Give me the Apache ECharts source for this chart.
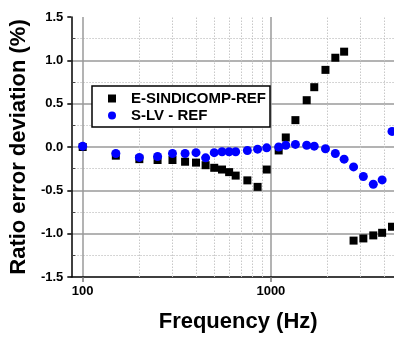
<!DOCTYPE html>
<html>
<head>
<meta charset="utf-8">
<script src="https://cdn.jsdelivr.net/npm/echarts@6/dist/echarts.min.js"></script>
<style>
html,body{margin:0;padding:0;background:#fff;}
#c{width:394px;height:338px;}
</style>
</head>
<body>
<div id="c"></div>
<script>
// Data
const freqHz = [100,150,200,250,300,350,400,450,500,550,600,650,750,850,950,1100,1200,1350,1550,1700,1950,2200,2450,2750,3100,3500,3900,4400];
const eSindicompRef = [0.00,-0.10,-0.14,-0.15,-0.15,-0.17,-0.18,-0.21,-0.24,-0.26,-0.29,-0.33,-0.385,-0.46,-0.26,-0.04,0.11,0.31,0.54,0.69,0.89,1.03,1.10,-1.08,-1.055,-1.02,-0.99,-0.92];
const sLvRef = [0.01,-0.075,-0.12,-0.11,-0.075,-0.075,-0.065,-0.125,-0.065,-0.055,-0.055,-0.055,-0.04,-0.025,-0.01,0.00,0.02,0.03,0.02,0.01,-0.02,-0.075,-0.14,-0.23,-0.34,-0.43,-0.38,0.18];
const seriesNames = ['E-SINDICOMP-REF','S-LV - REF'];
const xMinorGrid = [200,300,400,500,600,700,800,900,2000,3000,4000];

const FONT = 'Liberation Sans, Arial, Helvetica, sans-serif';
const chart = echarts.init(document.getElementById('c'), null, {renderer:'canvas'});

const pairs = (xs, ys) => xs.map((x,i)=>[x, ys[i]]);

chart.setOption({
  animation:false,
  backgroundColor:'#fff',
  grid:{left:71, top:17, right:0, bottom:55, containLabel:false},
  legend:{
    orient:'vertical', left:92, top:86,
    padding:[5,4,4,16], itemGap:2,
    itemWidth:8, itemHeight:8,
    borderColor:'#000', borderWidth:1.5, backgroundColor:'#fff',
    data:seriesNames,
    formatter: n => '{g|}' + n,
    textStyle:{fontFamily:FONT, fontWeight:'bold', fontSize:15, color:'#000',
      rich:{g:{width:10}}}
  },
  xAxis:{
    type:'log', logBase:10, min:87, max:4510,
    name:'Frequency (Hz)', nameLocation:'middle', nameGap:34,
    nameTextStyle:{fontFamily:FONT, fontWeight:'bold', fontSize:22, color:'#000', padding:[0,0,0,11]},
    axisLine:{show:true, onZero:false, lineStyle:{color:'#000', width:1.5}},
    axisTick:{show:true, length:5, lineStyle:{color:'#777', width:1.5}},
    axisLabel:{fontFamily:FONT, fontWeight:'bold', fontSize:13, color:'#000', margin:8,
      showMinLabel:false, showMaxLabel:false,
      formatter: v => { const l = Math.log10(v); return Math.abs(l - Math.round(l)) < 1e-6 ? String(Math.round(v)) : ''; }},
    splitLine:{show:true, showMinLine:false, showMaxLine:false, lineStyle:{color:'#9a9a9a', width:1.5}}
  },
  yAxis:{
    type:'value', min:-1.5, max:1.5, interval:0.5,
    name:'Ratio error deviation (%)', nameLocation:'middle', nameGap:34,
    nameTextStyle:{fontFamily:FONT, fontWeight:'bold', fontSize:22, color:'#000'},
    axisLine:{show:true, onZero:false, lineStyle:{color:'#000', width:1.5}},
    axisTick:{show:true, length:4, lineStyle:{color:'#000', width:1.5}},
    minorTick:{show:true, splitNumber:2, length:-4, lineStyle:{color:'#444', width:1}},
    minorSplitLine:{show:true, lineStyle:{color:'#c8c8c8', width:1, type:[1.5,1.5]}},
    axisLabel:{fontFamily:FONT, fontWeight:'bold', fontSize:13, color:'#000', margin:8,
      formatter: v => v.toFixed(1)},
    splitLine:{show:true, showMinLine:false, showMaxLine:false, lineStyle:{color:'#9a9a9a', width:1.5}}
  },
  series:[
    {
      name:seriesNames[0], type:'scatter', symbol:'rect', symbolSize:8,
      itemStyle:{color:'#000', opacity:1},
      data:pairs(freqHz, eSindicompRef), z:3,
      markLine:{
        silent:true, symbol:'none', z:1, animation:false,
        label:{show:false},
        lineStyle:{color:'#c8c8c8', width:1, type:[1.5,1.5]},
        emphasis:{disabled:true},
        data:xMinorGrid.map(v=>({xAxis:v}))
      }
    },
    {
      name:seriesNames[1], type:'scatter', symbol:'circle', symbolSize:9,
      itemStyle:{color:'#0000ff', opacity:1},
      data:pairs(freqHz, sLvRef), z:4
    }
  ]
});
</script>
</body>
</html>
